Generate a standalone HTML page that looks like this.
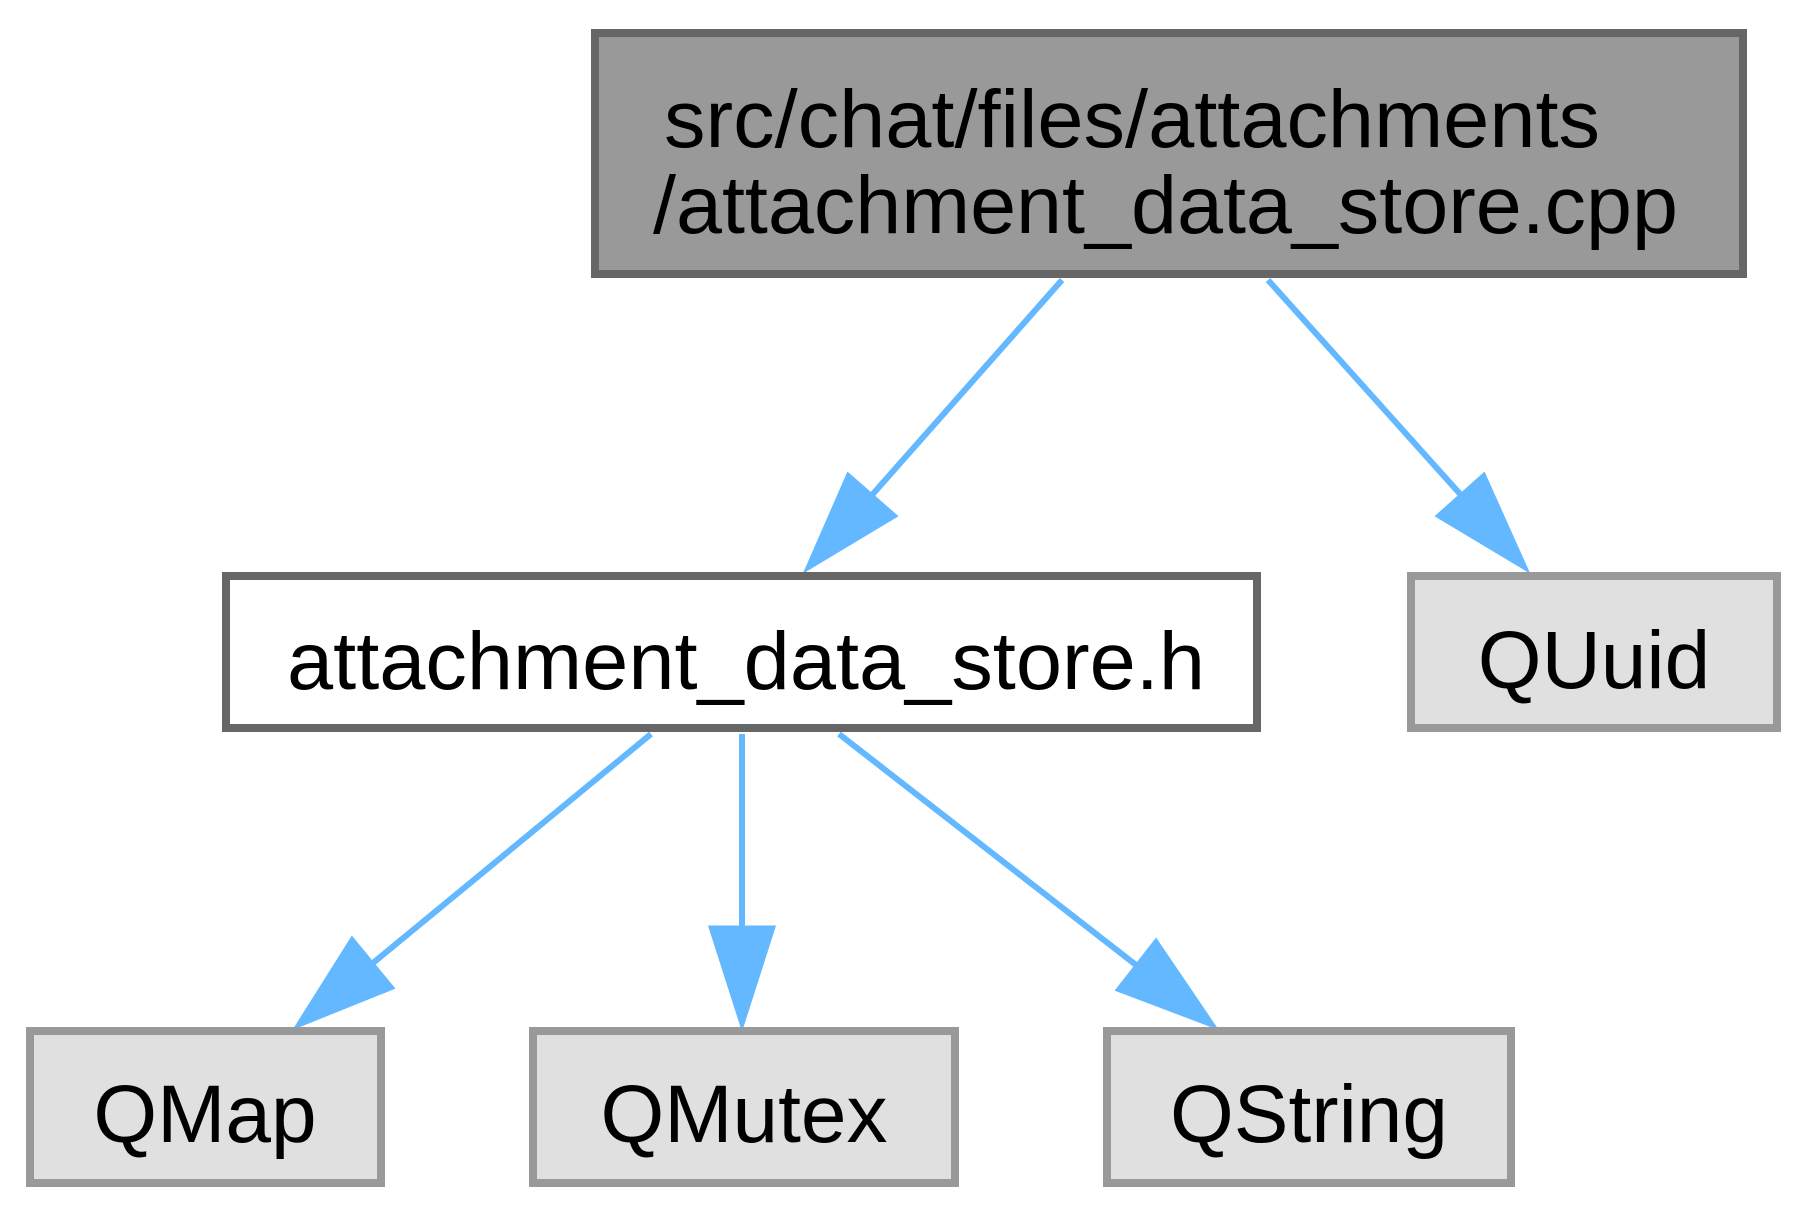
<!DOCTYPE html>
<html>
<head>
<meta charset="utf-8">
<style>
html,body{margin:0;padding:0;background:#fff;}
svg{display:block;}
text{font-family:"Liberation Sans",Arial,Helvetica,sans-serif;font-size:82px;fill:#000;}
</style>
</head>
<body>
<svg width="1808" height="1217" viewBox="0 0 1808 1217" xmlns="http://www.w3.org/2000/svg">
<rect x="0" y="0" width="1808" height="1217" fill="#fff"/>

<!-- edges -->
<g stroke="#63b8ff" stroke-width="6" fill="none">
  <line x1="1062" y1="280" x2="872" y2="495"/>
  <line x1="1268" y1="280" x2="1461" y2="495"/>
  <line x1="651" y1="734" x2="373" y2="963"/>
  <line x1="742" y1="734" x2="742" y2="927"/>
  <line x1="839" y1="734" x2="1136" y2="965"/>
</g>
<g fill="#63b8ff" stroke="#63b8ff" stroke-width="3">
  <polygon points="896,516 848,474 806,570"/>
  <polygon points="1484,474 1437,516 1527,570"/>
  <polygon points="393,988 352,938 296,1027"/>
  <polygon points="710,927 774,927 742,1027"/>
  <polygon points="1156,940 1117,990 1215,1027"/>
</g>

<!-- top node -->
<rect x="595" y="33" width="1148" height="241" fill="#999999" stroke="#666666" stroke-width="8"/>
<text x="664" y="147" textLength="936" lengthAdjust="spacingAndGlyphs">src/chat/files/attachments</text>
<text x="653" y="233" textLength="1025" lengthAdjust="spacingAndGlyphs">/attachment_data_store.cpp</text>

<!-- mid node -->
<rect x="226" y="576" width="1031" height="152" fill="#ffffff" stroke="#666666" stroke-width="8"/>
<text x="287" y="689" textLength="918" lengthAdjust="spacingAndGlyphs">attachment_data_store.h</text>

<!-- QUuid -->
<rect x="1411" y="576" width="366" height="152" fill="#e0e0e0" stroke="#999999" stroke-width="8"/>
<text x="1594" y="688" text-anchor="middle">QUuid</text>

<!-- bottom row -->
<rect x="30" y="1031" width="351" height="152" fill="#e0e0e0" stroke="#999999" stroke-width="8"/>
<text x="205" y="1142" text-anchor="middle">QMap</text>

<rect x="533" y="1031" width="422" height="152" fill="#e0e0e0" stroke="#999999" stroke-width="8"/>
<text x="744" y="1142" text-anchor="middle">QMutex</text>

<rect x="1107" y="1031" width="404" height="152" fill="#e0e0e0" stroke="#999999" stroke-width="8"/>
<text x="1309" y="1142" text-anchor="middle">QString</text>
</svg>
</body>
</html>
